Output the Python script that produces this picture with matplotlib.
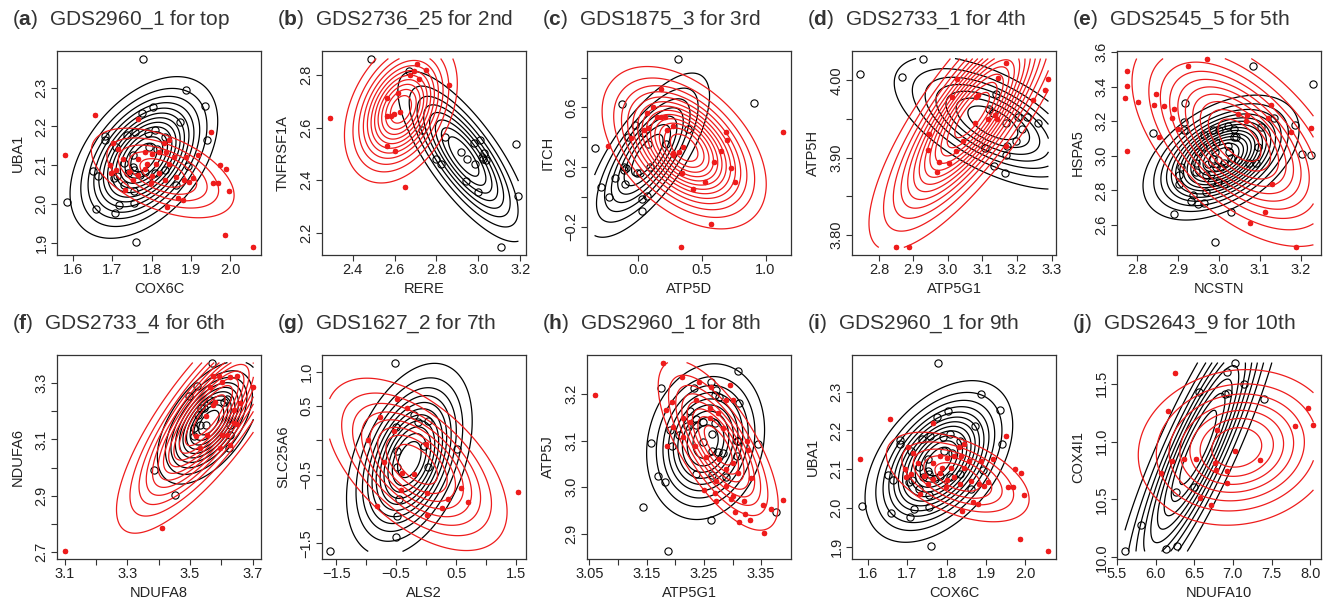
import numpy as np
import matplotlib
matplotlib.use("Agg")
import matplotlib.pyplot as plt

plt.rcParams['font.family'] = ['Liberation Sans', 'DejaVu Sans']
plt.rcParams['mathtext.fontset'] = 'custom'
plt.rcParams['mathtext.rm'] = 'Liberation Sans'
plt.rcParams['mathtext.bf'] = 'Liberation Sans:bold'

# ---- data ----
# fits are (mean x, mean y, sd x, sd y, correlation, number of contour levels)

# (a) and (i): GDS2960_1, COX6C vs UBA1
a_xb = [1.777,1.887,1.936,1.803,1.775,1.873,1.682,1.680,1.736,1.757,1.790,1.809,1.833,1.942,1.814,1.753,1.710,1.792,1.730,1.753,
        1.650,1.664,1.712,1.756,1.784,1.808,1.833,1.892,1.862,1.730,1.755,1.756,1.717,1.707,1.657,1.583,1.760,1.740,1.771,1.705]
a_yb = [2.375,2.293,2.253,2.250,2.235,2.211,2.175,2.164,2.177,2.186,2.182,2.190,2.173,2.166,2.143,2.126,2.147,2.147,2.106,2.096,
        2.085,2.072,2.072,2.087,2.083,2.079,2.087,2.097,2.050,2.048,2.033,2.003,1.997,1.976,1.986,2.004,1.901,2.079,2.074,2.066]
a_xr = [1.578,1.656,1.765,1.952,1.701,1.714,1.831,1.844,1.784,1.801,1.818,1.836,1.857,1.727,1.766,1.788,1.810,1.844,1.888,1.919,
        1.693,1.697,1.743,1.766,1.801,1.818,1.835,1.862,1.883,1.896,1.905,1.974,1.990,1.957,1.970,1.996,1.866,1.879,1.840,1.797,
        1.732,1.987,2.059,1.710,1.753,1.784]
a_yr = [2.127,2.229,2.220,2.186,2.156,2.143,2.156,2.164,2.134,2.130,2.134,2.134,2.121,2.117,2.115,2.104,2.104,2.104,2.121,2.126,
        2.100,2.081,2.083,2.074,2.072,2.079,2.061,2.070,2.061,2.057,2.066,2.100,2.090,2.053,2.053,2.033,2.016,2.010,1.991,2.053,
        2.036,1.920,1.888,2.087,2.061,2.091]
a_fit_b = (1.78, 2.12, 0.083, 0.092, 0.45, 12)
a_fit_r = (1.828, 2.08, 0.096, 0.061, -0.5, 5)

# (b) GDS2736_25, RERE vs TNFRSF1A
b_xb = [2.487,2.669,2.733,2.839,3.007,2.978,2.915,2.944,2.986,2.796,2.820,3.018,3.029,3.039,3.180,2.939,2.997,3.192,3.108,3.023]
b_yb = [2.864,2.815,2.593,2.565,2.552,2.540,2.508,2.479,2.463,2.479,2.460,2.489,2.504,2.476,2.536,2.396,2.353,2.340,2.143,2.482]
b_xr = [2.289,2.649,2.566,2.601,2.563,2.582,2.614,2.563,2.674,2.693,2.708,2.717,2.749,2.860,2.598,2.627]
b_yr = [2.637,2.372,2.531,2.512,2.644,2.644,2.733,2.715,2.800,2.815,2.844,2.785,2.819,2.764,2.654,2.660]
b_fit_b = (2.93, 2.49, 0.15, 0.155, -0.77, 8)
b_fit_r = (2.63, 2.67, 0.121, 0.126, 0.35, 11)

# (c) GDS1875_3, ATP5D vs ITCH
c_xb = [0.313,0.906,-0.131,-0.026,0.039,-0.084,0.078,0.217,0.392,-0.345,-0.110,-0.099,-0.117,-0.013,0.091,-0.188,-0.104,-0.292,
        -0.230,0.065,0.031,0.026,0.013]
c_yb = [0.928,0.631,0.620,0.482,0.430,0.403,0.354,0.354,0.455,0.330,0.202,0.191,0.180,0.158,0.202,0.124,0.086,0.064,
        -0.003,0.006,-0.015,-0.095,0.158]
c_xr = [0.175,0.112,0.065,0.144,0.178,0.209,0.269,0.078,0.044,0.222,-0.060,-0.240,0.347,0.321,0.269,0.274,0.339,0.595,0.653,0.731,
        0.697,0.687,0.757,0.522,0.431,0.569,0.334,1.141]
c_yr = [0.727,0.600,0.560,0.533,0.533,0.533,0.475,0.459,0.448,0.448,0.392,0.343,0.336,0.303,0.292,0.280,0.162,0.231,0.309,0.196,
        0.381,0.437,0.102,0.102,0.053,-0.182,-0.339,0.437]
c_fit_b = (0.07, 0.28, 0.24, 0.27, 0.72, 7)
c_fit_r = (0.36, 0.33, 0.281, 0.237, -0.45, 13)

# (d) GDS2733_1, ATP5G1 vs ATP5H
d_xb = [2.744,2.928,2.868,3.140,3.119,3.131,3.203,3.230,3.261,3.213,3.169,3.198,3.171,3.169,3.107,3.133,3.165]
d_yb = [4.008,4.028,4.004,3.982,3.963,3.958,3.953,3.953,3.945,3.937,3.945,3.922,3.915,3.904,3.912,3.889,3.880]
d_xr = [2.850,2.887,3.027,3.013,3.087,3.082,3.145,3.167,3.291,3.280,3.247,3.142,3.078,2.945,2.943,2.973,3.002,2.969,3.024,3.044,
        3.116,3.169,3.136]
d_yr = [3.784,3.784,4.002,3.978,3.981,3.978,4.003,4.022,4.001,3.988,3.974,3.950,3.945,3.931,3.910,3.894,3.893,3.881,3.909,3.922,
        3.950,3.915,3.955]
d_fit_b = (3.13, 3.945, 0.14, 0.042, -0.6, 7)
d_fit_r = (3.07, 3.955, 0.13, 0.076, 0.8, 13)

# (e) GDS2545_5, NCSTN vs HSPA5
e_xb = [2.989,2.889,3.029,2.932,2.948,2.964,2.968,2.903,2.903,2.907,2.944,2.944,2.960,2.964,2.985,3.001,3.021,3.037,3.037,3.041,
        2.993,2.989,2.985,2.997,2.993,3.005,3.013,3.025,3.029,3.046,2.980,2.980,2.997,3.013,2.915,2.915,2.918,2.839,3.082,3.135,
        3.102,3.096,3.090,3.074,3.204,3.224,3.185,3.231,2.936,2.968,2.948,2.974,3.021]
e_yb = [2.504,2.667,2.677,2.740,2.721,2.729,2.792,2.840,2.888,2.937,2.908,2.960,3.052,3.119,3.148,3.148,3.171,3.158,3.110,3.110,
        3.081,3.023,2.979,2.975,2.937,2.937,2.960,3.023,2.985,2.975,2.898,2.850,2.850,2.840,3.148,3.196,3.306,3.133,3.517,3.221,
        3.167,3.052,2.956,2.956,3.013,3.004,3.177,3.413,2.773,2.888,3.023,2.952,3.056]
e_xr = [2.970,2.924,2.776,2.769,2.803,2.845,2.841,2.865,2.891,2.886,2.899,2.776,2.854,3.046,3.068,3.066,3.127,3.119,3.176,3.226,
        3.076,3.112,3.129,3.188,2.776]
e_yr = [3.562,3.519,3.402,3.337,3.312,3.360,3.296,3.287,3.269,3.221,3.158,3.027,3.110,3.240,3.235,3.202,3.296,3.221,3.138,3.162,
        2.613,2.673,2.835,2.471,3.488]
e_fit_b = (3.005, 2.99, 0.082, 0.155, 0.45, 14)
e_fit_r = (3.05, 3.09, 0.12, 0.28, -0.55, 10)

# (f) GDS2733_4, NDUFA8 vs NDUFA6
f_xb = [3.570,3.522,3.496,3.536,3.546,3.562,3.607,3.617,3.628,3.626,3.623,3.514,3.512,3.531,3.385,3.451,3.524,3.552]
f_yb = [3.374,3.291,3.255,3.211,3.211,3.241,3.232,3.243,3.152,3.117,3.070,3.141,3.111,3.152,2.991,2.902,3.188,3.152]
f_xr = [3.100,3.412,3.702,3.573,3.591,3.628,3.650,3.565,3.602,3.660,3.573,3.639,3.651,3.602,3.628,3.553,3.532,3.596,3.520,3.552,
        3.580,3.639,3.617]
f_yr = [2.701,2.784,3.286,3.326,3.326,3.321,3.326,3.288,3.306,3.229,3.223,3.158,3.156,3.117,3.082,3.117,3.070,3.070,3.111,3.182,
        3.235,3.206,3.117]
f_fit_b = (3.56, 3.16, 0.075, 0.10, 0.55, 10)
f_fit_r = (3.56, 3.185, 0.13, 0.185, 0.8, 12)

# (g) GDS1627_2, ALS2 vs SLC25A6
g_xb = [-0.517,-1.611,-0.200,0.039,-0.144,-0.500,-0.028,0.511,-0.489,-0.489,0.039,-0.461,-0.489,-0.500]
g_yb = [1.136,-1.621,0.369,0.286,0.272,0.199,-0.083,-0.126,-0.150,-0.393,-0.393,-0.859,-1.102,-1.417]
g_xr = [-0.489,-0.322,-0.767,-0.544,-0.978,0.000,-0.406,-0.200,-0.417,0.011,0.578,0.706,0.356,0.261,0.011,-0.822,1.539,-0.700]
g_yr = [0.602,0.466,0.335,0.136,0.005,-0.053,-0.481,-0.495,-0.723,-0.772,-0.689,-0.893,-0.854,-0.990,-1.087,-0.956,-0.748,-0.311]
g_fit_b = (-0.28, -0.28, 0.47, 0.63, 0.4, 11)
g_fit_r = (-0.16, -0.35, 0.72, 0.6, -0.55, 8)

# (h) GDS2960_1, ATP5G1 vs ATP5J
h_xb = [3.309,3.263,3.175,3.233,3.272,3.276,3.270,3.311,3.225,3.191,3.237,3.236,3.249,3.269,3.265,3.307,3.309,3.249,3.264,3.274,
        3.283,3.308,3.344,3.157,3.195,3.237,3.265,3.289,3.169,3.182,3.143,3.263,3.376,3.188,3.206,3.220]
h_yb = [3.250,3.227,3.213,3.213,3.209,3.194,3.199,3.182,3.164,3.124,3.146,3.134,3.141,3.139,3.114,3.100,3.100,3.098,3.077,3.075,
        3.074,3.068,3.094,3.095,3.088,3.029,3.026,3.021,3.024,3.011,2.957,2.929,2.946,2.862,3.113,3.132]
h_xr = [3.059,3.178,3.211,3.241,3.263,3.295,3.289,3.300,3.195,3.183,3.237,3.260,3.275,3.214,3.226,3.260,3.283,3.196,3.185,3.214,
        3.234,3.254,3.277,3.301,3.325,3.327,3.333,3.309,3.289,3.272,3.251,3.272,3.297,3.300,3.320,3.304,3.321,3.330,3.311,3.354,
        3.367,3.389,3.355,3.269,3.289]
h_yr = [3.199,3.268,3.238,3.226,3.215,3.220,3.188,3.188,3.183,3.166,3.188,3.170,3.159,3.149,3.141,3.149,3.127,3.129,3.088,3.109,
        3.088,3.064,3.061,3.052,3.099,3.081,3.020,3.031,3.039,3.013,2.995,2.970,2.974,2.981,2.970,2.946,2.943,2.929,2.925,2.961,
        2.954,2.972,2.901,2.988,3.002]
h_fit_b = (3.253, 3.098, 0.048, 0.078, 0.15, 9)
h_fit_r = (3.275, 3.09, 0.05, 0.087, -0.7, 8)

# (j) GDS2643_9, NDUFA10 vs COX4I1
j_xb = [5.603,5.809,6.131,6.282,6.269,6.497,6.557,6.926,7.021,7.149,6.900,6.943,7.407]
j_yb = [10.050,10.275,10.071,10.099,10.561,10.607,11.425,11.601,11.684,11.500,11.411,11.419,11.367]
j_xr = [6.256,6.162,6.076,6.213,6.368,6.527,6.763,6.797,6.776,6.922,6.922,6.578,6.720,7.021,7.351,7.802,7.966,8.043]
j_yr = [11.592,11.261,10.728,10.829,10.849,10.849,10.814,11.102,10.751,10.742,10.641,10.512,10.454,10.915,10.843,11.131,11.290,11.146]
j_fit_b = (6.55, 10.95, 0.52, 0.7, 0.87, 9)
j_fit_r = (7.05, 10.95, 0.625, 0.33, 0.1, 7)

titles = ["GDS2960_1 for top", "GDS2736_25 for 2nd", "GDS1875_3 for 3rd", "GDS2733_1 for 4th", "GDS2545_5 for 5th",
          "GDS2733_4 for 6th", "GDS1627_2 for 7th", "GDS2960_1 for 8th", "GDS2960_1 for 9th", "GDS2643_9 for 10th"]
letters = ["a", "b", "c", "d", "e", "f", "g", "h", "i", "j"]
xnames = ["COX6C", "RERE", "ATP5D", "ATP5G1", "NCSTN", "NDUFA8", "ALS2", "ATP5G1", "COX6C", "NDUFA10"]
ynames = ["UBA1", "TNFRSF1A", "ITCH", "ATP5H", "HSPA5", "NDUFA6", "SLC25A6", "ATP5J", "UBA1", "COX4I1"]

# tick positions and the labels R kept
xticks = [
    ([1.6, 1.7, 1.8, 1.9, 2.0], ["1.6", "1.7", "1.8", "1.9", "2.0"]),
    ([2.4, 2.6, 2.8, 3.0, 3.2], ["2.4", "2.6", "2.8", "3.0", "3.2"]),
    ([0.0, 0.5, 1.0], ["0.0", "0.5", "1.0"]),
    ([2.8, 2.9, 3.0, 3.1, 3.2, 3.3], ["2.8", "2.9", "3.0", "3.1", "3.2", "3.3"]),
    ([2.8, 2.9, 3.0, 3.1, 3.2], ["2.8", "2.9", "3.0", "3.1", "3.2"]),
    ([3.1, 3.2, 3.3, 3.4, 3.5, 3.6, 3.7], ["3.1", "", "3.3", "", "3.5", "", "3.7"]),
    ([-1.5, -1.0, -0.5, 0.0, 0.5, 1.0, 1.5], ["\u22121.5", "", "\u22120.5", "", "0.5", "", "1.5"]),
    ([3.05, 3.10, 3.15, 3.20, 3.25, 3.30, 3.35], ["3.05", "", "3.15", "", "3.25", "", "3.35"]),
    ([1.6, 1.7, 1.8, 1.9, 2.0], ["1.6", "1.7", "1.8", "1.9", "2.0"]),
    ([5.5, 6.0, 6.5, 7.0, 7.5, 8.0], ["5.5", "6.0", "6.5", "7.0", "7.5", "8.0"]),
]
yticks = [
    ([1.9, 2.0, 2.1, 2.2, 2.3], ["1.9", "2.0", "2.1", "2.2", "2.3"]),
    ([2.2, 2.4, 2.6, 2.8], ["2.2", "2.4", "2.6", "2.8"]),
    ([-0.2, 0.0, 0.2, 0.4, 0.6, 0.8], ["\u22120.2", "", "0.2", "", "0.6", ""]),
    ([3.80, 3.85, 3.90, 3.95, 4.00], ["3.80", "", "3.90", "", "4.00"]),
    ([2.6, 2.8, 3.0, 3.2, 3.4, 3.6], ["2.6", "2.8", "3.0", "3.2", "3.4", "3.6"]),
    ([2.7, 2.8, 2.9, 3.0, 3.1, 3.2, 3.3], ["2.7", "", "2.9", "", "3.1", "", "3.3"]),
    ([-1.5, -1.0, -0.5, 0.0, 0.5, 1.0], ["\u22121.5", "", "\u22120.5", "", "0.5", "1.0"]),
    ([2.9, 3.0, 3.1, 3.2], ["2.9", "3.0", "3.1", "3.2"]),
    ([1.9, 2.0, 2.1, 2.2, 2.3], ["1.9", "2.0", "2.1", "2.2", "2.3"]),
    ([10.0, 10.5, 11.0, 11.5], ["10.0", "10.5", "11.0", "11.5"]),
]

panels = [
    (a_xb, a_yb, a_xr, a_yr, a_fit_b, a_fit_r),
    (b_xb, b_yb, b_xr, b_yr, b_fit_b, b_fit_r),
    (c_xb, c_yb, c_xr, c_yr, c_fit_b, c_fit_r),
    (d_xb, d_yb, d_xr, d_yr, d_fit_b, d_fit_r),
    (e_xb, e_yb, e_xr, e_yr, e_fit_b, e_fit_r),
    (f_xb, f_yb, f_xr, f_yr, f_fit_b, f_fit_r),
    (g_xb, g_yb, g_xr, g_yr, g_fit_b, g_fit_r),
    (h_xb, h_yb, h_xr, h_yr, h_fit_b, h_fit_r),
    (a_xb, a_yb, a_xr, a_yr, a_fit_b, a_fit_r),
    (j_xb, j_yb, j_xr, j_yr, j_fit_b, j_fit_r),
]


def normal_contour(ax, X, Y, fit, color):
    mx, my, sx, sy, r, n = fit
    zx = (X - mx) / sx
    zy = (Y - my) / sy
    q = (zx**2 - 2*r*zx*zy + zy**2) / (1 - r**2)
    Z = np.exp(-q / 2)
    levels = np.arange(1, n + 1) / (n + 1)
    ax.contour(X, Y, Z, levels=levels, colors=color, linewidths=0.9)


W, H = 1326, 602
fig = plt.figure(figsize=(W/100, H/100), dpi=100)
txt = '#222222'
red = '#ee1c1c'
lefts = [57, 322, 587, 852, 1117]
tops = [51, 355]
size = 204

for k, (xb, yb, xr, yr, fb, fr) in enumerate(panels):
    row, col = divmod(k, 5)
    l, t = lefts[col], tops[row]
    ax = fig.add_axes([l/W, 1 - (t+size)/H, size/W, size/H])
    allx = np.array(xb + xr)
    ally = np.array(yb + yr)
    gx = np.linspace(allx.min(), allx.max(), 250)
    gy = np.linspace(ally.min(), ally.max(), 250)
    X, Y = np.meshgrid(gx, gy)
    normal_contour(ax, X, Y, fb, 'black')
    ax.plot(xb, yb, 'o', ms=5.2, mfc='none', mec='black', mew=0.8, ls='none')
    normal_contour(ax, X, Y, fr, red)
    ax.plot(xr, yr, ls='none', marker=(8, 2, 0), ms=3.8, mec=red, mew=1.2)
    dx = (allx.max() - allx.min()) * 0.04
    dy = (ally.max() - ally.min()) * 0.04
    ax.set_xlim(allx.min() - dx, allx.max() + dx)
    ax.set_ylim(ally.min() - dy, ally.max() + dy)
    ax.set_xticks(xticks[k][0])
    ax.set_xticklabels(xticks[k][1])
    ax.set_yticks(yticks[k][0])
    ax.set_yticklabels(yticks[k][1], rotation=90, va='center')
    ax.tick_params(direction='out', length=4, width=0.8, colors='#333333', labelcolor=txt, labelsize=10.5, pad=2)
    for s in ax.spines.values():
        s.set_color('#333333')
        s.set_linewidth(0.9)
    ax.set_xlabel(xnames[k], fontsize=10.5, color=txt)
    ax.set_ylabel(ynames[k], fontsize=10.5, color=txt)
    ax.xaxis.set_label_coords(0.5, -27/size)
    ax.yaxis.set_label_coords(-32/size, 0.5)
    fig.text((l - 45)/W, 1 - (t - 31)/H, r"($\bf{%s}$)  %s" % (letters[k], titles[k]),
             fontsize=15, color='#333333', va='center', ha='left')

fig.savefig("out.png", dpi=100)
